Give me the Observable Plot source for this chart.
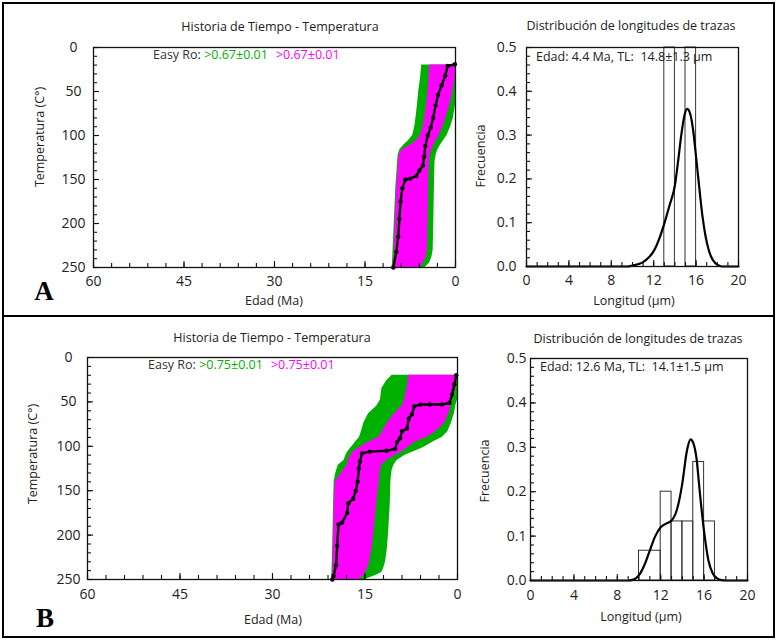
<!DOCTYPE html>
<html>
<head>
<meta charset="utf-8">
<script src="https://cdn.jsdelivr.net/npm/d3@7"></script>
<script src="https://cdn.jsdelivr.net/npm/@observablehq/plot@0.6"></script>
<style>
  body { margin: 0; background: #fff; }
  #fig { position: relative; width: 776px; height: 640px; overflow: hidden; font-family: 'Open Sans', sans-serif; color: #222; background: #fff; }
  .lbl { position: absolute; white-space: pre; line-height: 1; }
  .line { position: absolute; background: #000; }
</style>
</head>
<body>
<div id="fig"></div>
<script>
// ---------- shared tick labels ----------
const ageTicks = [60, 45, 30, 15, 0];
const tempTicks = [0, 50, 100, 150, 200, 250];
const lenTicks = [0, 4, 8, 12, 16, 20];
const freqTicks = [0, 0.1, 0.2, 0.3, 0.4, 0.5];
const ageMinor = d3.range(0, 61, 3);
const tempMinor = d3.range(0, 251, 10);
const lenMinor = d3.range(0, 21, 1);
const freqMinor = d3.range(0, 0.501, 0.02);

// ---------- texts ----------
const ttTitle = "Historia de Tiempo - Temperatura";
const lenTitle = "Distribución de longitudes de trazas";
const ageLabel = "Edad (Ma)";
const tempLabel = "Temperatura (C°)";
const lenLabel = "Longitud (µm)";
const freqLabel = "Frecuencia";
const roA = ["Easy Ro: ", ">0.67±0.01", ">0.67±0.01"];
const roB = ["Easy Ro: ", ">0.75±0.01", ">0.75±0.01"];
const infoA = "Edad: 4.4 Ma, TL:  14.8±1.3 µm";
const infoB = "Edad: 12.6 Ma, TL:  14.1±1.5 µm";
const panelLetters = ["A", "B"];

// ---------- Panel A: time-temperature envelopes (age bounds in Ma at each temperature) ----------
const tA =         [20,  35,  50,   65,   80,   90,   100, 106, 111, 116, 122, 130,  160,  200,   230,   238,  245,   250];
const greenOldA =  [5.6, 5.8, 6.1,  6.3,  6.55, 6.75, 7.1, 7.8, 8.6, 9.2, 9.5, 9.6,  9.9,  10.15, 10.35, 10.4, 10.45, 10.5];
const greenYngA =  [0,   0,   0,    0,    0.35, 0.8,  1.4, 2.0, 2.5, 2.9, 3.2, 3.4,  3.5,  3.6,   3.7,   3.9,  4.3,   5.0];
const pinkOldA =   [4.3, 4.4, 4.55, 4.8,  5.1,  5.35, 5.8, 6.5, 7.5, 8.8, 9.3, 9.45, 9.75, 10.0,  10.15, 10.2, 10.25, 10.3];
const pinkYngA =   [0,   0.1, 0.45, 0.95, 1.6,  2.1,  2.7, 3.2, 3.6, 3.9, 4.2, 4.35, 4.45, 4.55,  4.65,  4.9,  5.3,   5.9];
// best-fit path
const pathAgeA = [0.1, 1.3, 1.7, 2.3, 2.9, 3.3, 3.7, 4.1, 4.6, 5.0, 5.2, 5.4, 6.0, 6.5, 7.5, 8.3, 8.8, 9.1, 9.3, 9.5, 9.8, 10.3];
const pathTA =   [19,  21,  32,  43,  54,  66,  80,  91,  100, 112, 124, 134, 140, 146, 149, 150, 160, 175, 195, 215, 232, 250];

// ---------- Panel A: track length distribution ----------
const binLoA = [13, 15];
const binHiA = [14, 16];
const binFreqA = [0.5, 0.5];
const curveLenA =  [0, 9.5, 10.0,  10.5,  11.0, 11.5, 12.0,  12.5,  13.0,  13.5, 14.0,  14.3, 14.6, 14.9,  15.15, 15.4,  15.7,  16.0, 16.3, 16.6,  16.9,  17.2,  17.5,  17.8,  18.1,  18.5, 20];
const curveFreqA = [0, 0,   0.002, 0.005, 0.01, 0.02, 0.035, 0.062, 0.098, 0.14, 0.185, 0.24, 0.3,  0.345, 0.36,  0.352, 0.315, 0.25, 0.18, 0.115, 0.068, 0.037, 0.018, 0.008, 0.003, 0,    0];

// ---------- Panel B: time-temperature envelopes ----------
const tB =         [20,   26,    35,    48,   55,   63,   74,   84,   90,   95,   101,  106,  110,  116,  121,  127,  132,  140,  164,  200,  217,   231,  238,   242,   245,  248,  250];
const greenOldB =  [10.6, 11.45, 12.26, 12.5, 13.1, 14.4, 15.2, 15.6, 15.9, 16.5, 17.2, 17.8, 18.1, 18.4, 19.3, 19.6, 19.8, 20.0, 20.1, 20.2, 20.25, 20.3, 20.35, 20.35, 20.4, 20.4, 20.4];
const greenYngB =  [0,    0,     0,     0,    0.3,  0.5,  1.0,  1.6,  2.5,  3.9,  5.4,  7.1,  8.5,  9.8,  10.3, 10.6, 10.7, 10.8, 10.9, 11.2, 11.4,  11.7, 12.0,  12.3,  13.1, 14.2, 15.0];
const pinkOldB =   [7.9,  8.0,   8.2,   8.6,  9.0,  10.2, 11.4, 12.2, 12.8, 14.3, 15.8, 16.9, 17.3, 17.7, 17.9, 18.5, 19.0, 19.8, 20.0, 20.1, 20.15, 20.2, 20.2,  20.25, 20.25, 20.3, 20.3];
const pinkYngB =   [0,    0.1,   0.35,  0.8,  1.1,  1.4,  2.1,  3.6,  5.0,  6.8,  8.0,  9.0,  10.1, 11.5, 12.3, 12.5, 12.6, 12.7, 13.1, 13.6, 13.9,  14.3, 14.6,  14.9,  15.2, 15.6, 16.0];
const pathAgeB = [0.2, 0.5, 0.9, 1.3, 2.5, 4.5, 6.0, 7.0, 7.4, 7.9, 8.2, 9.0, 9.3, 9.8, 10.1, 11.5, 14.2, 15.5, 15.8, 16.0, 16.2, 16.5, 16.9, 17.7, 17.9, 18.7, 19.3, 19.5, 19.7, 20.1, 20.3];
const pathTB =   [20,  30,  42,  51,  53,  53,  53,  55,  64,  69,  80,  83,  91,  95,  103,  105,  106,  108,  117,  125,  140,  150,  159,  164,  175,  186,  188,  212,  234,  246,  250];

// ---------- Panel B: track length distribution ----------
const binLoB = [10, 12, 13, 14, 15, 16];
const binHiB = [12, 13, 14, 15, 16, 17];
const binFreqB = [0.067, 0.2, 0.133, 0.133, 0.267, 0.133];
const curveLenB =  [0, 9.0, 9.5,   10.0,  10.5,  11.0,  11.5, 12.0, 12.5,  13.0,  13.5, 14.0, 14.4, 14.75, 15.0, 15.3,  15.6, 16.0, 16.4,  16.8,  17.2,  17.6,  18.0, 20];
const curveFreqB = [0, 0,   0.002, 0.012, 0.035, 0.068, 0.1,  0.12, 0.128, 0.135, 0.16, 0.22, 0.29, 0.318, 0.31, 0.275, 0.2,  0.11, 0.045, 0.016, 0.005, 0.001, 0,    0];

const GREEN = "#00b000";
const MAGENTA = "#ff00ff";
const FONT = "'Open Sans', sans-serif";
const fig = document.getElementById("fig");

// inward ticks: short rules hugging the bottom and left edges of the frame
function inTicks(xt, yt, size, L) {
  const fh = L.h - L.mt - L.mb, fw = L.w - L.ml - L.mr;
  return [
    Plot.ruleX(xt, {x: d => d, insetTop: fh - size, stroke: "#111", strokeWidth: 1.1}),
    Plot.ruleY(yt, {y: d => d, insetRight: fw - size, stroke: "#111", strokeWidth: 1.1})
  ];
}

function ttPlot(T, gOld, gYng, pOld, pYng, pAge, pT, L) {
  const env = T.map((t, i) => ({t, g0: gOld[i], g1: gYng[i], p0: pOld[i], p1: pYng[i]}));
  const path = pAge.map((a, i) => ({a, t: pT[i]}));
  return Plot.plot({
    width: L.w, height: L.h,
    marginLeft: L.ml, marginRight: L.mr, marginTop: L.mt, marginBottom: L.mb,
    style: {background: "transparent", fontFamily: FONT, fontSize: "14px", color: "#222", overflow: "visible"},
    x: {domain: [60, 0]},
    y: {domain: [0, 250], reverse: true},
    marks: [
      Plot.areaX(env, {y: "t", x1: "g0", x2: "g1", fill: GREEN}),
      Plot.areaX(env, {y: "t", x1: "p0", x2: "p1", fill: MAGENTA}),
      Plot.line(path, {x: "a", y: "t", stroke: "black", strokeWidth: 2.4}),
      Plot.dot(path, {x: "a", y: "t", r: 2.2, fill: "black"}),
      ...inTicks(ageMinor, tempMinor, 4, L),
      ...inTicks(ageTicks, tempTicks, 6, L),
      Plot.frame({stroke: "#111", strokeWidth: 1.3}),
      Plot.axisX({ticks: ageTicks, tickSize: 0, tickPadding: L.xPad, label: null}),
      Plot.axisY({ticks: tempTicks, tickSize: 0, tickPadding: L.yPad, textAnchor: "middle", label: null})
    ]
  });
}

function lenPlot(lo, hi, bf, cl, cf, L) {
  const bins = lo.map((v, i) => ({lo: v, hi: hi[i], f: bf[i]}));
  const curve = cl.map((v, i) => ({l: v, f: cf[i]}));
  return Plot.plot({
    width: L.w, height: L.h,
    marginLeft: L.ml, marginRight: L.mr, marginTop: L.mt, marginBottom: L.mb,
    style: {background: "transparent", fontFamily: FONT, fontSize: "14px", color: "#222", overflow: "visible"},
    x: {domain: [0, 20]},
    y: {domain: [0, 0.5]},
    marks: [
      Plot.rect(bins, {x1: "lo", x2: "hi", y1: 0, y2: "f", fill: "none", stroke: "#333", strokeWidth: 1}),
      Plot.line(curve, {x: "l", y: "f", stroke: "black", strokeWidth: 2.2, curve: "monotone-x"}),
      ...inTicks(lenMinor, freqMinor, 4, L),
      ...inTicks(lenTicks, freqTicks, 6, L),
      Plot.frame({stroke: "#111", strokeWidth: 1.3}),
      Plot.axisX({ticks: lenTicks, tickSize: 0, tickPadding: L.xPad, label: null}),
      Plot.axisY({ticks: freqTicks, tickSize: 0, tickPadding: L.yPad, tickFormat: d3.format(".1f"), label: null})
    ]
  });
}

function put(node, left, top) {
  const d = document.createElement("div");
  d.style.position = "absolute";
  d.style.left = left + "px";
  d.style.top = top + "px";
  d.appendChild(node);
  fig.appendChild(d);
}
function text(str, x, y, {size = 12.5, anchor = "middle", family = FONT, weight = "normal", color = "#222"} = {}) {
  const d = document.createElement("div");
  d.className = "lbl";
  d.textContent = str;
  d.style.left = x + "px"; d.style.top = y + "px";
  d.style.fontSize = size + "px"; d.style.fontFamily = family;
  d.style.fontWeight = weight; d.style.color = color;
  d.style.transform = `translate(${anchor === "middle" ? "-50%" : "0"},-50%)`;
  fig.appendChild(d);
}
function rotText(str, x, y, size) {
  const d = document.createElement("div");
  d.className = "lbl";
  d.textContent = str;
  d.style.left = x + "px"; d.style.top = y + "px";
  d.style.fontSize = size + "px";
  d.style.transform = "translate(-50%,-50%) rotate(-90deg)";
  fig.appendChild(d);
}
function roText(parts, x, y) {
  const d = document.createElement("div");
  d.className = "lbl";
  d.style.left = x + "px"; d.style.top = y + "px";
  d.style.fontSize = "12.5px";
  d.style.transform = "translate(0,-50%)";
  const colors = ["#333", GREEN, MAGENTA];
  parts.forEach((p, i) => {
    const s = document.createElement("span");
    s.textContent = p;
    s.style.color = colors[i];
    if (i === 2) s.style.marginLeft = "8px";
    d.appendChild(s);
  });
  fig.appendChild(d);
}

// ---------- Panel A ----------
const LA1 = {w: 470, h: 313, ml: 93, mr: 15, mt: 44, mb: 49, xPad: 9, yPad: 20};
const LA2 = {w: 300, h: 313, ml: 56, mr: 32, mt: 44, mb: 50, xPad: 9, yPad: 10};
put(ttPlot(tA, greenOldA, greenYngA, pinkOldA, pinkYngA, pathAgeA, pathTA, LA1), 0, 3);
put(lenPlot(binLoA, binHiA, binFreqA, curveLenA, curveFreqA, LA2), 470, 3);
text(ttTitle, 280, 27);
text(lenTitle, 631, 26);
text(ageLabel, 274, 301);
text(lenLabel, 634, 301);
rotText(tempLabel, 40, 137, 12.5);
rotText(freqLabel, 481, 156, 12.5);
roText(roA, 153, 55);
text(infoA, 536, 57, {anchor: "start"});
text(panelLetters[0], 44, 291, {size: 27, weight: "bold", family: "'Liberation Serif', serif", color: "#000"});

// ---------- Panel B ----------
const LB1 = {w: 470, h: 320, ml: 87, mr: 13, mt: 40, mb: 58, xPad: 10, yPad: 19};
const LB2 = {w: 300, h: 320, ml: 60, mr: 23, mt: 41, mb: 57, xPad: 10, yPad: 4};
put(ttPlot(tB, greenOldB, greenYngB, pinkOldB, pinkYngB, pathAgeB, pathTB, LB1), 0, 317);
put(lenPlot(binLoB, binHiB, binFreqB, curveLenB, curveFreqB, LB2), 470, 317);
text(ttTitle, 272, 338);
text(lenTitle, 638, 339);
text(ageLabel, 273, 620);
text(lenLabel, 641, 617);
rotText(tempLabel, 33, 454, 12.5);
rotText(freqLabel, 485, 471, 12.5);
roText(roB, 148, 365);
text(infoB, 540, 367, {anchor: "start"});
text(panelLetters[1], 45, 618, {size: 27, weight: "bold", family: "'Liberation Serif', serif", color: "#000"});

// ---------- figure border and divider ----------
function rule(l, t, w, h) {
  const d = document.createElement("div");
  d.className = "line";
  d.style.left = l + "px"; d.style.top = t + "px";
  d.style.width = w + "px"; d.style.height = h + "px";
  fig.appendChild(d);
}
rule(2, 2, 773, 2);
rule(2, 636, 773, 2);
rule(2, 2, 2, 636);
rule(773, 2, 2, 636);
rule(2, 315, 773, 2);
</script>
</body>
</html>
